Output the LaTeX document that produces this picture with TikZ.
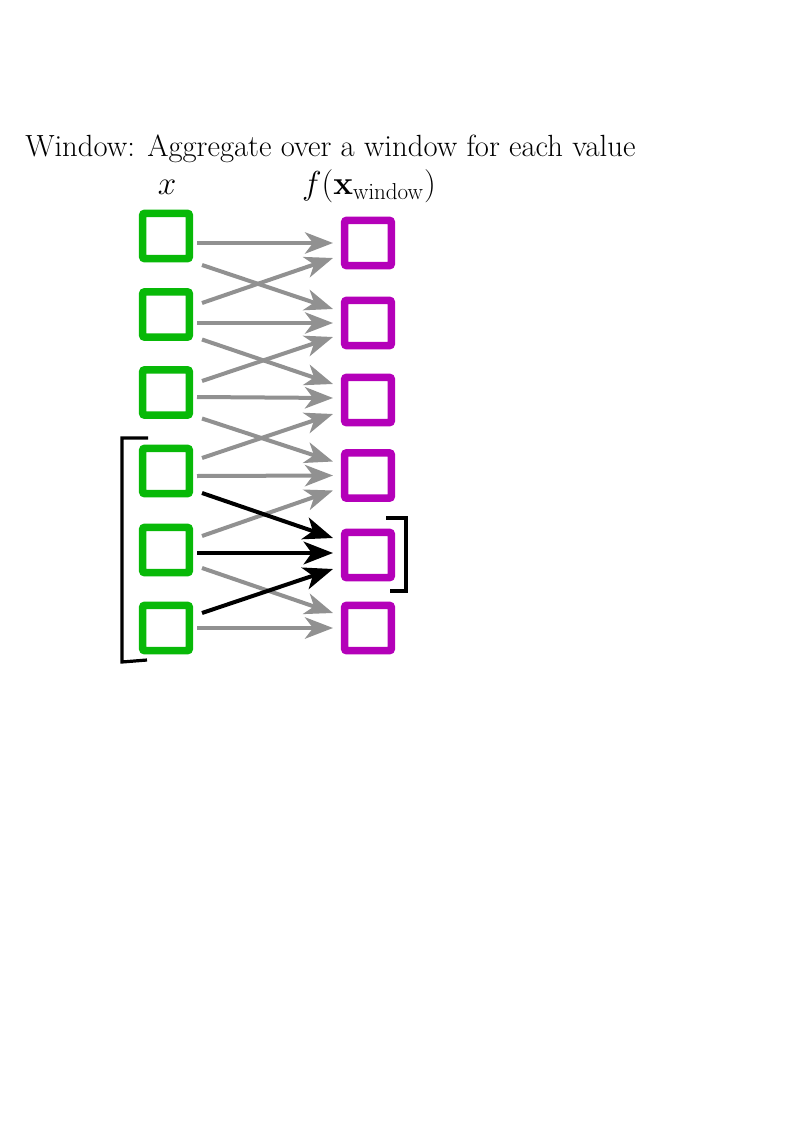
\documentclass[tikz,border=0pt]{standalone}
\usetikzlibrary{arrows.meta,calc}
\definecolor{boxgreen}{RGB}{8,185,8}
\definecolor{boxpurple}{RGB}{180,0,185}
\definecolor{arrowgray}{RGB}{145,145,145}
\begin{document}
\begin{tikzpicture}[x=0.75pt,y=-0.75pt,
  inbox/.style={draw=boxgreen,line width=5.6pt,minimum width=35pt,minimum height=34pt,rounded corners=1.5pt,inner sep=0pt},
  outbox/.style={draw=boxpurple,line width=5.6pt,minimum width=35pt,minimum height=34pt,rounded corners=1.5pt,inner sep=0pt},
  link/.style={draw=arrowgray,line width=3pt,-{Stealth[length=21pt,width=16pt,inset=6pt]}},
  hot/.style={draw=black,line width=3pt,-{Stealth[length=22pt,width=17pt,inset=6pt]}},
  bracket/.style={draw=black,line width=2.4pt},
  lbl/.style={font=\fontsize{23}{27}\selectfont,inner sep=0pt}
]
\useasboundingbox (0,0) rectangle (794,1123);
\node[lbl,anchor=base west] (title) at (25,157) {Window: Aggregate over a window for each value};
\node[lbl,anchor=base] (xl) at (167,195) {$x$};
\node[lbl,anchor=base] (fl) at (369,195) {$f(\mathbf{x}_{\mathrm{window}})$};
% input boxes
\node[inbox] (g1) at (166,236) {};
\node[inbox] (g2) at (166,314.5) {};
\node[inbox] (g3) at (166,392.5) {};
\node[inbox] (g4) at (166,471) {};
\node[inbox] (g5) at (166,550) {};
\node[inbox] (g6) at (166,628) {};
% output boxes
\node[outbox] (p1) at (368,243) {};
\node[outbox] (p2) at (368,323) {};
\node[outbox] (p3) at (368,400) {};
\node[outbox] (p4) at (368,475.5) {};
\node[outbox] (p5) at (368,555) {};
\node[outbox] (p6) at (368,628) {};
% horizontal arrows
\draw[link] ($(g1)+(31,7)$) -- ($(p1)+(-35,0)$);
\draw[link] ($(g2)+(31,8.5)$) -- ($(p2)+(-35,0)$);
\draw[link] ($(g3)+(31,4.5)$) -- ($(p3)+(-35,-2)$);
\draw[link] ($(g4)+(31,5)$) -- ($(p4)+(-35,0)$);
\draw[link] ($(g6)+(31,0)$) -- ($(p6)+(-35,0)$);
% down arrows
\draw[link] ($(g1)+(36,29)$) -- ($(p2)+(-35,-14)$);
\draw[link] ($(g2)+(36,25)$) -- ($(p3)+(-35,-16)$);
\draw[link] ($(g3)+(36,26)$) -- ($(p4)+(-35,-14)$);
\draw[link] ($(g5)+(36,18)$) -- ($(p6)+(-35,-15)$);
% up arrows
\draw[link] ($(g2)+(36,-11.5)$) -- ($(p1)+(-35,15)$);
\draw[link] ($(g3)+(36,-11.5)$) -- ($(p2)+(-35,14)$);
\draw[link] ($(g4)+(36,-13)$) -- ($(p3)+(-35,14)$);
\draw[link] ($(g5)+(36,-14)$) -- ($(p4)+(-35,15)$);
% highlighted window
\draw[hot] ($(g4)+(36,22)$) -- ($(p5)+(-35,-17)$);
\draw[hot] ($(g5)+(31,3)$) -- ($(p5)+(-35,-2)$);
\draw[hot] ($(g6)+(36,-15)$) -- ($(p5)+(-35,14)$);
% brackets
\draw[bracket] (148,438) -- (122,438) -- (122,662) -- (147,660);
\draw[bracket] (386,518) -- (406,518) -- (406,591) -- (390,591);
\end{tikzpicture}
\end{document}
